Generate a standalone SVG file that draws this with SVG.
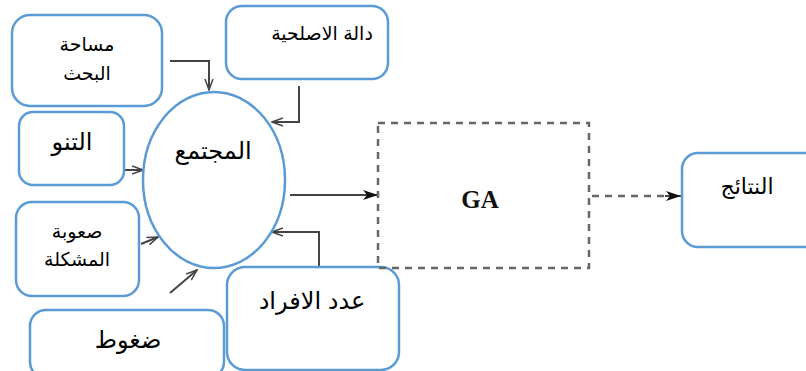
<svg xmlns="http://www.w3.org/2000/svg" width="806" height="371" viewBox="0 0 806 371">
<style>
.box{fill:#fff;stroke:#5b9bd5;stroke-width:2.5}
.t{font-family:"Liberation Sans","DejaVu Sans",sans-serif;fill:#000;text-anchor:middle}
.c{fill:none;stroke:#444;stroke-width:2}
.d{fill:none;stroke:#666;stroke-width:2.5;stroke-dasharray:7 6}
</style>
<defs>
<marker id="open" markerWidth="12" markerHeight="10" refX="11" refY="5" orient="auto" markerUnits="userSpaceOnUse">
<path d="M0,1 L11,5 L0,9" fill="none" stroke="#444" stroke-width="1.5"/>
</marker>
<marker id="fill" markerWidth="16" markerHeight="10" refX="15" refY="5" orient="auto" markerUnits="userSpaceOnUse">
<path d="M0,0 L15,5 L0,10 L4,5 Z" fill="#111"/>
</marker>
</defs>
<rect width="806" height="371" fill="#fff"/>
<g id="connectors">
<path class="c" d="M170,61 H209 V90" marker-end="url(#open)"/>
<path class="c" d="M299,86 V122 H272" marker-end="url(#open)"/>
<path class="c" d="M125,170 H143" marker-end="url(#open)"/>
<path class="c" d="M141,244 L158,237" marker-end="url(#open)"/>
<path class="c" d="M170,293 L197,270" marker-end="url(#open)"/>
<path class="c" d="M319,267 V232 H272" marker-end="url(#open)"/>
<path class="c" d="M290,195 H378" stroke="#555" stroke-width="2.5" marker-end="url(#fill)"/>
<path class="d" d="M592,196 H668"/>
<path class="c" d="M665,196 H681" stroke="#111" marker-end="url(#fill)"/>
</g>
<g id="n-search"><rect class="box" x="12" y="15" width="150" height="91" rx="18"/>
<text class="t" x="87" y="51" font-size="19">مساحة</text>
<text class="t" x="87" y="80" font-size="19">البحث</text></g>
<g id="n-fitness"><rect class="box" x="226" y="6" width="162" height="73" rx="16"/>
<text class="t" x="322" y="40" font-size="19">دالة الاصلحية</text></g>
<g id="n-tanno"><rect class="box" x="19" y="112" width="105" height="73" rx="14"/>
<text class="t" x="72" y="150" font-size="24">التنو</text></g>
<g id="n-difficulty"><rect class="box" x="16" y="202" width="123" height="94" rx="16"/>
<text class="t" x="77" y="238" font-size="19">صعوبة</text>
<text class="t" x="77" y="266" font-size="19">المشكلة</text></g>
<g id="n-pressure"><rect class="box" x="30" y="310" width="194" height="68" rx="16"/>
<text class="t" x="128" y="348" font-size="24">ضغوط</text></g>
<g id="n-population"><ellipse cx="214" cy="180" rx="71" ry="88" fill="#fff" stroke="#5b9bd5" stroke-width="2.5"/>
<text class="t" x="213" y="159" font-size="24">المجتمع</text></g>
<g id="n-individuals"><rect class="box" x="227" y="267" width="172" height="103" rx="18"/>
<text class="t" x="312" y="309" font-size="24">عدد الافراد</text></g>
<g id="n-ga"><rect class="d" x="378" y="123" width="211" height="145"/>
<text x="480" y="208" font-size="25" font-weight="bold" font-family="Liberation Serif,serif" text-anchor="middle" fill="#111">GA</text></g>
<g id="n-results"><rect class="box" x="682" y="153" width="140" height="94" rx="16"/>
<text class="t" x="747" y="194" font-size="22">النتائج</text></g>
</svg>
